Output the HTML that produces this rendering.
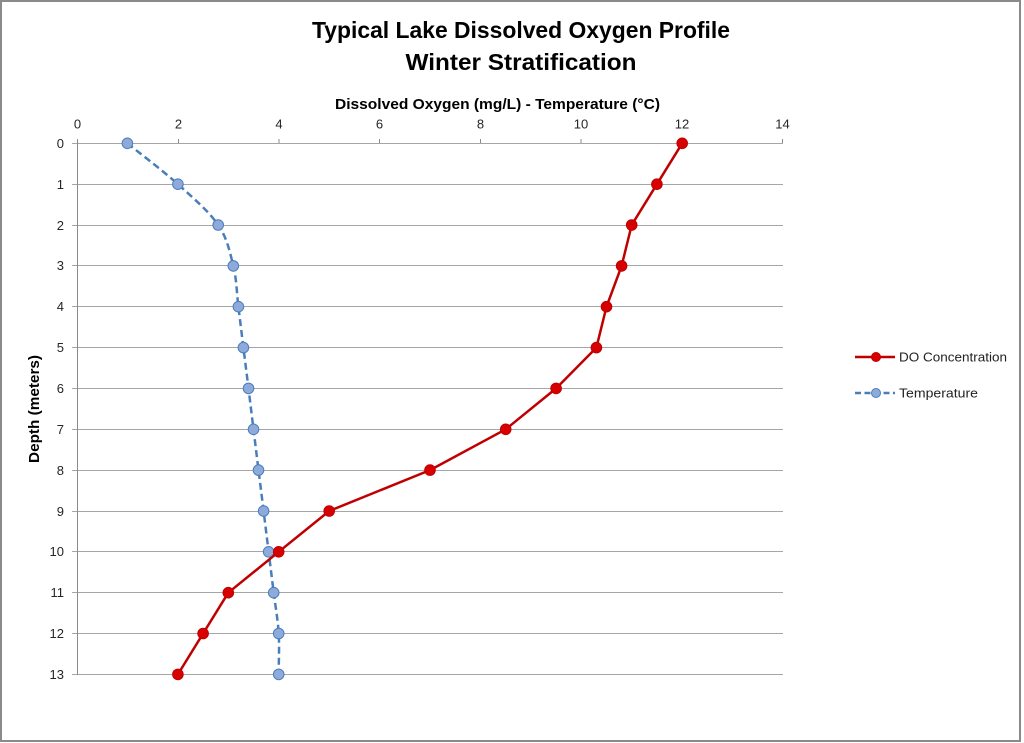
<!DOCTYPE html>
<html>
<head>
<meta charset="utf-8">
<style>
html,body{margin:0;padding:0;background:#fff;}
svg{display:block;}
text{font-family:"Liberation Sans",Arial,sans-serif;}
</style>
</head>
<body>
<svg width="1024" height="743" viewBox="0 0 1024 743" xmlns="http://www.w3.org/2000/svg">
<rect x="0" y="0" width="1024" height="743" fill="#fff"/>
<rect x="1" y="1" width="1019" height="740" fill="none" stroke="#8a8a8a" stroke-width="2"/>

<!-- Title -->
<text x="521" y="38" font-size="23" font-weight="bold" text-anchor="middle" textLength="418" lengthAdjust="spacingAndGlyphs" fill="#000">Typical Lake Dissolved Oxygen Profile</text>
<text x="521" y="70" font-size="23" font-weight="bold" text-anchor="middle" textLength="231" lengthAdjust="spacingAndGlyphs" fill="#000">Winter Stratification</text>

<!-- X axis title -->
<text x="497.5" y="109" font-size="15" font-weight="bold" text-anchor="middle" textLength="325" lengthAdjust="spacingAndGlyphs" fill="#000">Dissolved Oxygen (mg/L) - Temperature (°C)</text>

<!-- Y axis title -->
<text transform="translate(39,409) rotate(-90)" x="0" y="0" font-size="15" font-weight="bold" text-anchor="middle" textLength="108" lengthAdjust="spacingAndGlyphs" fill="#000">Depth (meters)</text>

<!-- Gridlines -->
<g stroke="#a6a6a6" stroke-width="1">
<line x1="72" y1="143.5" x2="783" y2="143.5"/>
<line x1="72" y1="184.5" x2="783" y2="184.5"/>
<line x1="72" y1="225.5" x2="783" y2="225.5"/>
<line x1="72" y1="265.5" x2="783" y2="265.5"/>
<line x1="72" y1="306.5" x2="783" y2="306.5"/>
<line x1="72" y1="347.5" x2="783" y2="347.5"/>
<line x1="72" y1="388.5" x2="783" y2="388.5"/>
<line x1="72" y1="429.5" x2="783" y2="429.5"/>
<line x1="72" y1="470.5" x2="783" y2="470.5"/>
<line x1="72" y1="511.5" x2="783" y2="511.5"/>
<line x1="72" y1="551.5" x2="783" y2="551.5"/>
<line x1="72" y1="592.5" x2="783" y2="592.5"/>
<line x1="72" y1="633.5" x2="783" y2="633.5"/>
<line x1="72" y1="674.5" x2="783" y2="674.5"/>
</g>
<!-- Y axis line and x ticks -->
<g stroke="#8a8a8a" stroke-width="1">
<line x1="77.5" y1="139" x2="77.5" y2="675"/>
<line x1="178.5" y1="139" x2="178.5" y2="143"/>
<line x1="279" y1="139" x2="279" y2="143"/>
<line x1="379.5" y1="139" x2="379.5" y2="143"/>
<line x1="480.5" y1="139" x2="480.5" y2="143"/>
<line x1="581" y1="139" x2="581" y2="143"/>
<line x1="682" y1="139" x2="682" y2="143"/>
<line x1="782.5" y1="139" x2="782.5" y2="143"/>
</g>

<!-- X tick labels -->
<g font-size="13" fill="#262626" text-anchor="middle">
<text x="77.5" y="128.5">0</text>
<text x="178.5" y="128.5">2</text>
<text x="279" y="128.5">4</text>
<text x="379.5" y="128.5">6</text>
<text x="480.5" y="128.5">8</text>
<text x="581" y="128.5">10</text>
<text x="682" y="128.5">12</text>
<text x="782.5" y="128.5">14</text>
</g>
<!-- Y tick labels -->
<g font-size="13" fill="#262626" text-anchor="end">
<text x="64" y="148">0</text>
<text x="64" y="189">1</text>
<text x="64" y="230">2</text>
<text x="64" y="270">3</text>
<text x="64" y="311">4</text>
<text x="64" y="352">5</text>
<text x="64" y="393">6</text>
<text x="64" y="434">7</text>
<text x="64" y="475">8</text>
<text x="64" y="516">9</text>
<text x="64" y="556">10</text>
<text x="64" y="597">11</text>
<text x="64" y="638">12</text>
<text x="64" y="679">13</text>
</g>

<!-- Temperature series (smoothed dashed) -->
<path d="M127.4,143.3 C135.8,150.1 162.8,170.6 177.9,184.2 C193.0,197.8 209.0,211.4 218.2,225.0 C227.4,238.6 229.9,252.3 233.3,265.9 C236.7,279.5 236.7,293.1 238.4,306.7 L243.4,347.6 L248.5,388.4 L253.5,429.3 L258.5,470.1 L263.6,511.0 L268.6,551.8 L273.7,592.7 C275.4,606.3 277.9,619.9 278.7,633.5 C279.5,647.1 278.7,660.8 278.7,674.4" fill="none" stroke="#4a7ebb" stroke-width="2.5" stroke-dasharray="7,4"/>
<g fill="#8eaadb" stroke="#4a7ebb" stroke-width="1">
<circle cx="127.4" cy="143.3" r="5.3"/>
<circle cx="177.9" cy="184.2" r="5.3"/>
<circle cx="218.2" cy="225.0" r="5.3"/>
<circle cx="233.3" cy="265.9" r="5.3"/>
<circle cx="238.4" cy="306.7" r="5.3"/>
<circle cx="243.4" cy="347.6" r="5.3"/>
<circle cx="248.5" cy="388.4" r="5.3"/>
<circle cx="253.5" cy="429.3" r="5.3"/>
<circle cx="258.5" cy="470.1" r="5.3"/>
<circle cx="263.6" cy="511.0" r="5.3"/>
<circle cx="268.6" cy="551.8" r="5.3"/>
<circle cx="273.7" cy="592.7" r="5.3"/>
<circle cx="278.7" cy="633.5" r="5.3"/>
<circle cx="278.7" cy="674.4" r="5.3"/>
</g>

<!-- DO series -->
<polyline points="682.2,143.3 656.9,184.2 631.7,225.0 621.6,265.9 606.5,306.7 596.4,347.6 556.1,388.4 505.7,429.3 430.0,470.1 329.2,511.0 278.7,551.8 228.3,592.7 203.1,633.5 177.9,674.4" fill="none" stroke="#c00000" stroke-width="2.5" stroke-linejoin="round"/>
<g fill="#d60000" stroke="#c00000" stroke-width="1">
<circle cx="682.2" cy="143.3" r="5.3"/>
<circle cx="656.9" cy="184.2" r="5.3"/>
<circle cx="631.7" cy="225.0" r="5.3"/>
<circle cx="621.6" cy="265.9" r="5.3"/>
<circle cx="606.5" cy="306.7" r="5.3"/>
<circle cx="596.4" cy="347.6" r="5.3"/>
<circle cx="556.1" cy="388.4" r="5.3"/>
<circle cx="505.7" cy="429.3" r="5.3"/>
<circle cx="430.0" cy="470.1" r="5.3"/>
<circle cx="329.2" cy="511.0" r="5.3"/>
<circle cx="278.7" cy="551.8" r="5.3"/>
<circle cx="228.3" cy="592.7" r="5.3"/>
<circle cx="203.1" cy="633.5" r="5.3"/>
<circle cx="177.9" cy="674.4" r="5.3"/>
</g>

<!-- Legend -->
<line x1="855" y1="357" x2="895" y2="357" stroke="#c00000" stroke-width="2.5"/>
<circle cx="876" cy="357" r="4.5" fill="#d60000" stroke="#c00000" stroke-width="1"/>
<text x="899" y="361.5" font-size="12.5" fill="#222" textLength="108" lengthAdjust="spacingAndGlyphs">DO Concentration</text>
<line x1="855" y1="393" x2="895" y2="393" stroke="#4a7ebb" stroke-width="2.5" stroke-dasharray="6,3.5"/>
<circle cx="876" cy="393" r="4.5" fill="#8eaadb" stroke="#4a7ebb" stroke-width="1"/>
<text x="899" y="397.5" font-size="12.5" fill="#222" textLength="79" lengthAdjust="spacingAndGlyphs">Temperature</text>
</svg>
</body>
</html>
